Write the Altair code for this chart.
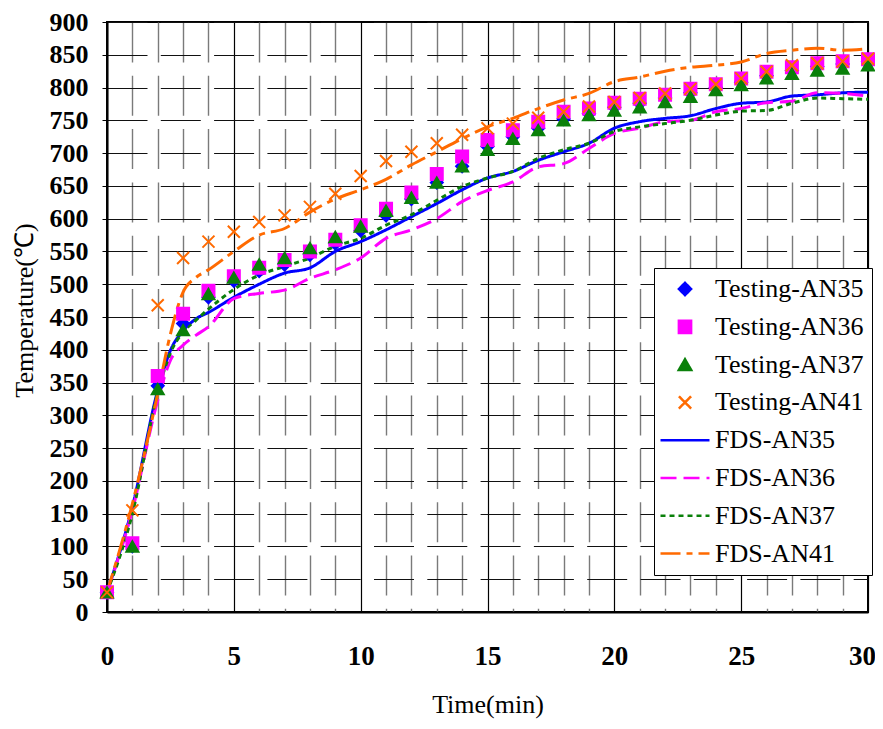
import altair as alt
import pandas as pd

# ---------------- data ----------------
x_ticks = list(range(0, 31))
y_ticks = list(range(0, 901, 50))

series_names = ["Testing-AN35", "Testing-AN36", "Testing-AN37", "Testing-AN41",
                "FDS-AN35", "FDS-AN36", "FDS-AN37", "FDS-AN41"]

t_test = list(range(0, 31))
test_an35 = [30, 100, 345, 440, 480, 505, 520, 530, 545, 562, 582, 605, 630, 655, 680, 710,
             725, 738, 752, 760, 770, 776, 784, 792, 800, 808, 818, 826, 832, 836, 840]
test_an36 = [30, 105, 360, 455, 490, 512, 525, 537, 550, 568, 590, 615, 640, 668, 695, 720,
             735, 748, 763, 768, 777, 783, 789, 798, 805, 814, 824, 831, 837, 840, 843]
test_an37 = [30, 100, 340, 430, 485, 510, 530, 540, 555, 572, 588, 612, 632, 655, 680, 705,
             722, 735, 750, 758, 765, 770, 778, 786, 796, 804, 814, 821, 826, 829, 834]
test_an41 = [30, 155, 468, 540, 565, 580, 595, 605, 618, 638, 665, 688, 702, 715, 728, 738,
             745, 754, 763, 771, 778, 784, 791, 798, 805, 814, 824, 834, 837, 840, 844]

t_fds = [0, 1, 2, 2.5, 3, 3.5] + list(range(4, 31))
fds_an35 = [30, 160, 338, 399, 429, 447, 457, 480, 500, 517, 525, 550, 565, 583, 603, 623, 644,
            662, 672, 689, 702, 715, 738, 748, 753, 757, 768, 776, 778, 787, 789, 792, 793]
fds_an36 = [30, 155, 323, 384, 407, 422, 435, 478, 486, 491, 509, 522, 540, 570, 583, 600, 626,
            643, 656, 679, 684, 707, 730, 738, 748, 750, 763, 768, 777, 779, 792, 791, 787]
fds_an37 = [30, 150, 335, 395, 427, 445, 462, 492, 514, 527, 540, 558, 570, 590, 606, 628, 649,
            662, 672, 692, 705, 715, 733, 740, 745, 750, 758, 764, 765, 776, 784, 783, 782]
fds_an41 = [30, 165, 333, 424, 488, 510, 522, 550, 575, 585, 610, 630, 644, 660, 682, 702, 722,
            740, 753, 768, 781, 791, 809, 816, 825, 831, 834, 839, 852, 857, 860, 857, 859]

# ---------------- tables ----------------
rows = []
for name, vals in zip(series_names[:4], [test_an35, test_an36, test_an37, test_an41]):
    for t, v in zip(t_test, vals):
        rows.append({"t": t, "temp": v, "series": name})
df_test = pd.DataFrame(rows)

rows = []
for name, vals in zip(series_names[4:], [fds_an35, fds_an36, fds_an37, fds_an41]):
    for t, v in zip(t_fds, vals):
        rows.append({"t": t, "temp": v, "series": name})
df_fds = pd.DataFrame(rows)

# ---------------- styles ----------------
BLUE, MAG, GRN, ORG = "#0000FF", "#FF00FF", "#0A800A", "#FF6A00"
colors = [BLUE, MAG, GRN, ORG, BLUE, MAG, GRN, ORG]
LINE_SYM = "M-4,0L4,0"
X_SYM = "M-1,-1L1,1M-1,1L1,-1"
shapes = ["diamond", "square", "triangle-up", X_SYM, LINE_SYM, LINE_SYM, LINE_SYM, LINE_SYM]
dashes = [[1, 0], [1, 0], [1, 0], [1, 0], [1, 0], [16, 7], [5, 4], [20, 6, 6, 6]]

FONT = "Liberation Serif"

leg = alt.Legend(
    title=None, orient="none", legendX=547, legendY=246, direction="vertical",
    strokeColor="black", fillColor="white", padding=8, cornerRadius=0,
    labelFont=FONT, labelFontSize=26, labelColor="black", labelLimit=400,
    symbolSize=150, symbolStrokeWidth=2.5, rowPadding=11.8, labelOffset=17,
    symbolOffset=10,
)

fill_scale = alt.Scale(domain=series_names, range=colors)
stroke_scale = alt.Scale(domain=series_names, range=colors)
shape_scale = alt.Scale(domain=series_names, range=shapes)
dash_scale = alt.Scale(domain=series_names, range=dashes)

major = "datum.value % 5 === 0"
x_axis = alt.Axis(
    values=x_ticks,
    labelExpr="datum.value % 5 === 0 ? datum.label : ''",
    ticks=False, tickSize=0, labelFlush=False, labelOverlap=False,
    labelFont=FONT, labelFontWeight="bold", labelFontSize=27, labelColor="black",
    labelPadding=31,
    labelOffset={"condition": {"test": "datum.value === 30", "value": -6}, "value": 0},
    title="Time(min)", titleFont=FONT, titleFontSize=26, titleFontWeight="normal",
    titleColor="black", titlePadding=22,
    domainColor="black", domainWidth=2,
    grid=True,
    gridColor={"condition": {"test": major, "value": "#000000"}, "value": "#7a7a7a"},
    gridDash={"condition": {"test": major, "value": [1, 0]}, "value": [40, 13.3]},
    gridWidth={"condition": {"test": major, "value": 1.2}, "value": 1.4},
)
y_axis = alt.Axis(
    values=y_ticks,
    ticks=True, tickSize=5, tickColor="black", tickWidth=1,
    labelFont=FONT, labelFontWeight="bold", labelFontSize=26, labelColor="black",
    labelPadding=14,
    title="Temperature(℃)", titleFont=FONT, titleFontSize=26, titleFontWeight="normal",
    titleColor="black", titleAngle=-90, titleX=-70, titleY=288,
    titleAlign="center", titleBaseline="bottom",
    domainColor="black", domainWidth=2,
    grid=True, gridColor="#111111", gridDash=[40, 13.3], gridWidth=1,
)

x_enc = alt.X("t:Q", scale=alt.Scale(domain=[0, 30], nice=False, zero=False), axis=x_axis)
y_enc = alt.Y("temp:Q", scale=alt.Scale(domain=[0, 900], nice=False), axis=y_axis)

lines = alt.Chart(df_fds).mark_line(strokeWidth=3, interpolate="monotone").encode(
    x=x_enc,
    y=y_enc,
    stroke=alt.Stroke("series:N", scale=stroke_scale, legend=leg),
    strokeDash=alt.StrokeDash("series:N", scale=dash_scale, legend=leg),
)

points = alt.Chart(df_test).mark_point(filled=True, size=144, strokeWidth=2, opacity=1).encode(
    x=x_enc,
    y=y_enc,
    fill=alt.Fill("series:N", scale=fill_scale, legend=leg),
    stroke=alt.Stroke("series:N", scale=stroke_scale, legend=leg),
    shape=alt.Shape("series:N", scale=shape_scale, legend=leg),
)

chart = alt.layer(lines, points).properties(
    width=761, height=590,
    autosize=alt.AutoSizeParams(type="none"),
    padding={"left": 99, "top": 14, "right": 7, "bottom": 109},
).configure(
    background="white", font=FONT
).configure_axis(
    labelFont=FONT, titleFont=FONT
).configure_legend(
    labelFont=FONT
).configure_view(stroke="black", strokeWidth=2)

chart.save("out.html", embed_options={"renderer": "svg", "actions": False})
